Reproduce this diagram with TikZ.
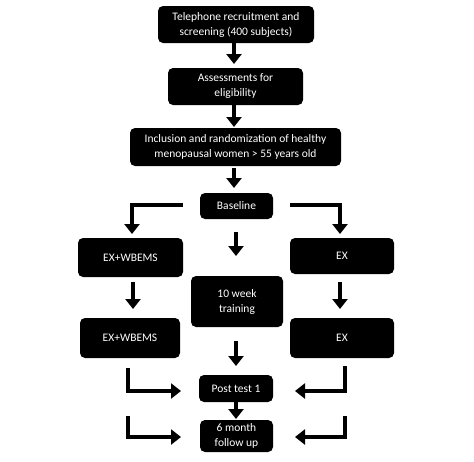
\documentclass[tikz,border=0pt]{standalone}
\usepackage{fontspec}
\setmainfont{Carlito}
\usetikzlibrary{arrows.meta}
\begin{document}
\begin{tikzpicture}[x=1pt,y=-1pt,
  box/.style={fill=black,text=white,rounded corners=5pt,align=center,inner sep=0pt,
    font=\fontsize{11.5}{15}\selectfont},
  arr/.style={line width=3.5pt,-{Triangle[width=15pt,length=10pt]}}]
\useasboundingbox (0,0) rectangle (474,461);
\node[box,minimum width=156pt,minimum height=37pt] (t1) at (236,24.5) {Telephone recruitment and\\screening (400 subjects)};
\node[box,minimum width=135pt,minimum height=37pt] (t2) at (235.5,86.5) {Assessments for\\eligibility};
\node[box,minimum width=211pt,minimum height=38pt] (t3) at (235.5,147) {Inclusion and randomization of healthy\\menopausal women > 55 years old};
\node[box,minimum width=73pt,minimum height=26pt] (base) at (236.5,206) {Baseline};
\node[box,minimum width=105pt,minimum height=39pt] (exw1) at (130.5,257.5) {EX+WBEMS};
\node[box,minimum width=104pt,minimum height=36pt] (ex1) at (342,256) {EX};
\node[box,minimum width=92pt,minimum height=51pt] (tr) at (237,301.5) {10 week\\training};
\node[box,minimum width=100pt,minimum height=40pt] (exw2) at (130,338) {EX+WBEMS};
\node[box,minimum width=104pt,minimum height=40pt] (ex2) at (342,338) {EX};
\node[box,minimum width=74pt,minimum height=27pt] (post) at (236,388.5) {Post test 1};
\node[box,minimum width=73pt,minimum height=32pt] (fu) at (236.5,436) {6 month\\follow up};
% coordinates
\coordinate (a1s) at (234,43); \coordinate (a1e) at (234,64);
\coordinate (a2s) at (234,105); \coordinate (a2e) at (234,127);
\coordinate (a3s) at (234,168); \coordinate (a3e) at (234,188);
\coordinate (lbs) at (183,205); \coordinate (lbe) at (132,234);
\coordinate (rbs) at (290,205); \coordinate (rbe) at (340,234);
\coordinate (cbs) at (236,232); \coordinate (cbe) at (236,256);
\coordinate (lds) at (133,282); \coordinate (lde) at (133,309);
\coordinate (rds) at (340,282); \coordinate (rde) at (340,309);
\coordinate (cds) at (236,341); \coordinate (cde) at (236,366);
\coordinate (pfs) at (236,402); \coordinate (pfe) at (236,419);
\coordinate (lps) at (128,368); \coordinate (lpe) at (181,391);
\coordinate (rps) at (345,366); \coordinate (rpe) at (295,391);
\coordinate (lfs) at (128,416); \coordinate (lfe) at (181,437);
\coordinate (rfs) at (345,416); \coordinate (rfe) at (295,437);
\draw[arr] (a1s) -- (a1e);
\draw[arr] (a2s) -- (a2e);
\draw[arr] (a3s) -- (a3e);
\draw[arr] (lbs) -| (lbe);
\draw[arr] (rbs) -| (rbe);
\draw[arr] (cbs) -- (cbe);
\draw[arr] (lds) -- (lde);
\draw[arr] (rds) -- (rde);
\draw[arr] (cds) -- (cde);
\draw[arr] (pfs) -- (pfe);
\draw[arr] (lps) |- (lpe);
\draw[arr] (rps) |- (rpe);
\draw[arr] (lfs) |- (lfe);
\draw[arr] (rfs) |- (rfe);
\end{tikzpicture}
\end{document}
